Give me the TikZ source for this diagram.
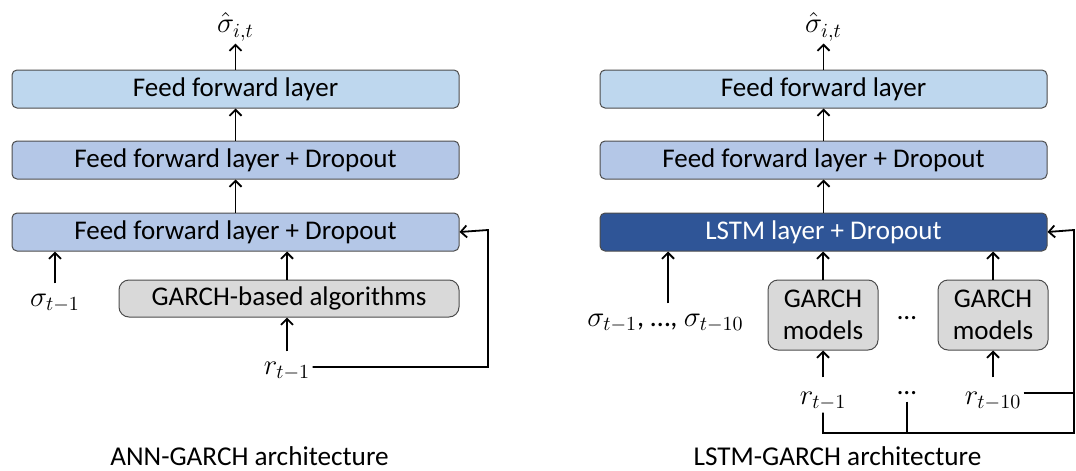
\documentclass[tikz,border=0pt]{standalone}
\usepackage{fontspec}
\setmainfont{Carlito}
\usetikzlibrary{arrows.meta,positioning}
\definecolor{ffTop}{RGB}{190,215,238}
\definecolor{ffMid}{RGB}{180,199,231}
\definecolor{lstmBlue}{RGB}{47,85,151}
\definecolor{garchGray}{RGB}{217,217,217}
\newcommand{\boxfont}{\fontsize{13.5}{16}\selectfont}
\newcommand{\varfont}{\fontsize{14.2}{16}\selectfont}

\begin{document}
\begin{tikzpicture}[x=0.5pt,y=-0.5pt,node distance=16pt,
  line/.style={-{Straight Barb[length=3pt,width=6pt]},line width=0.9pt},
  wire/.style={line width=0.9pt},
  layer/.style={rectangle,draw=black!70,line width=0.5pt,rounded corners=2.5pt,minimum width=223.5pt,minimum height=19pt,inner sep=0pt,font=\boxfont},
  garch/.style={rectangle,draw=black!70,line width=0.5pt,rounded corners=5pt,fill=garchGray,inner sep=0pt,align=center,font=\boxfont},
  var/.style={inner sep=1pt,font=\varfont},
  caption/.style={font=\fontsize{13.6}{16}\selectfont}]
\useasboundingbox (0,0) rectangle (1076,471);
\node[layer,fill=ffTop] (ffL1) at (235.5,89) {Feed forward layer};
\node[layer,fill=ffMid,below=16pt of ffL1] (ffL2) {Feed forward layer + Dropout};
\node[layer,fill=ffMid,below=16.5pt of ffL2] (ffL3) {Feed forward layer + Dropout};
\node[garch,minimum width=170pt,minimum height=18.5pt] (garchL) at (289,298.5) {GARCH-based algorithms};
\node[var] (outL) at (235.5,27) {$\hat{\sigma}_{i,t}$};
\node[var] (sigL) at (55,303) {$\sigma_{t-1}$};
\node[var] (rL) at (287,371) {$r_{t-1}$};
\coordinate (fbL) at (488,230);
\node[caption] (capL) at (249.5,456) {ANN-GARCH architecture};
\draw[line] (ffL1) -- (outL);
\draw[line] (ffL2) -- (ffL1);
\draw[line] (ffL3) -- (ffL2);
\draw[line] ([yshift=4pt]sigL.north) -- (sigL.north |- ffL3.south);
\draw[line] (garchL.north -| rL) -- (ffL3.south -| rL);
\draw[line] ([yshift=4pt]rL.north) -- (rL |- garchL.south);
\draw[line] ([yshift=2pt]rL.east) -| (fbL) -- (ffL3.east);

\node[layer,fill=ffTop] (ffR1) at (823.5,89) {Feed forward layer};
\node[layer,fill=ffMid,below=16pt of ffR1] (ffR2) {Feed forward layer + Dropout};
\node[layer,fill=lstmBlue,text=white,below=16.5pt of ffR2] (lstm) {LSTM layer + Dropout};
\node[garch,minimum width=55pt,minimum height=35pt] (gm1) at (823,315) {GARCH\\models};
\node[garch,minimum width=55pt,minimum height=35pt] (gm2) at (993,315) {GARCH\\models};
\node[var] (outR) at (823.5,27) {$\hat{\sigma}_{i,t}$};
\node[var] (sigR) at (665.5,323) {$\sigma_{t-1}$, \ldots, $\sigma_{t-10}$};
\node[font=\boxfont] (dotsA) at (907,318) {…};
\node[var] (r1) at (823,401) {$r_{t-1}$};
\node[font=\boxfont] (dotsB) at (907,393) {…};
\node[var] (r10) at (993,401) {$r_{t-10}$};
\coordinate (fbR) at (1074,230);
\coordinate (bot) at (1074,433);
\node[caption] (capR) at (837.5,456) {LSTM-GARCH architecture};
\draw[line] (ffR1) -- (outR);
\draw[line] (ffR2) -- (ffR1);
\draw[line] (lstm) -- (ffR2);
\draw[line] ([yshift=4pt]sigR.north -| 668,0) -- (lstm.south -| 668,0);
\draw[line] (gm1) -- (gm1 |- lstm.south);
\draw[line] (gm2) -- (gm2 |- lstm.south);
\draw[line] ([yshift=6pt]r1.north) -- (gm1);
\draw[line] ([yshift=6pt]r10.north) -- (gm2);
\draw[line] (r1.south) |- (bot) -- (fbR) -- (lstm.east);
\draw[wire] ([yshift=4pt]r10.east) -- ([yshift=4pt]r10.east -| bot);
\draw[wire] (dotsB.south) -- (dotsB.south |- bot);
\end{tikzpicture}
\end{document}
